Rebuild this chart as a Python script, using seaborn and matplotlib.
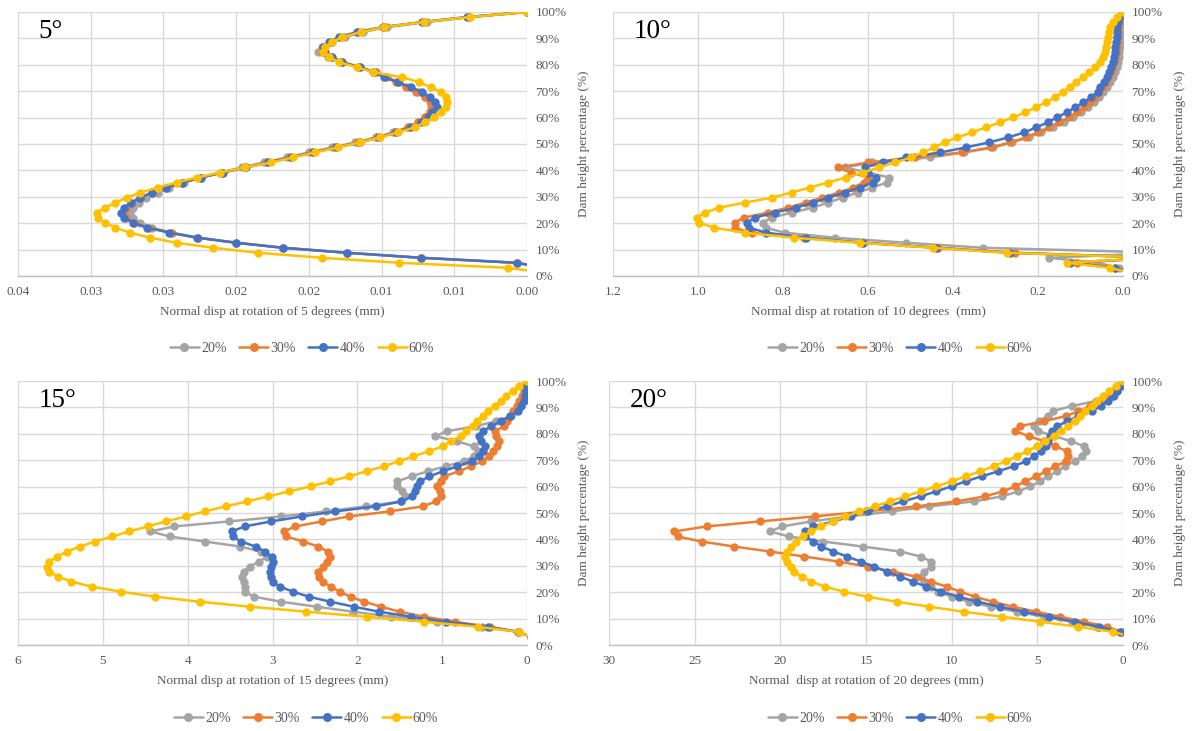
"""
Dam normal displacement profiles at four rotation angles (5, 10, 15, 20 degrees)
"""

from decimal import Decimal, ROUND_HALF_UP

import numpy as np
import pandas as pd
import matplotlib
matplotlib.use("Agg")
import matplotlib.pyplot as plt
import seaborn as sns
from matplotlib.lines import Line2D
from matplotlib.ticker import MultipleLocator, FuncFormatter

nan = np.nan

# node heights along the dam (% of dam height), shared by every series
height_pct = [100.0, 98.1, 96.2, 94.3, 92.4, 90.5, 88.6, 86.7, 84.8, 82.9,
              81.0, 79.1, 77.2, 75.3, 73.4, 71.5, 69.6, 67.7, 65.8, 63.9,
              62.0, 60.1, 58.2, 56.3, 54.4, 52.5, 50.6, 48.7, 46.8, 44.9,
              43.0, 41.1, 39.2, 37.3, 35.4, 33.5, 31.6, 29.7, 27.8, 25.9,
              24.0, 22.1, 20.2, 18.3, 16.4, 14.5, 12.6, 10.7, 8.8, 6.9,
              5.0, 3.1, 1.2]

series_names = ['20%', '30%', '40%', '60%']
series_colors = ['#A5A5A5', '#ED7D31', '#4472C4', '#FFC000']

# ---- 5 degrees (mm) ----
d5_20 = [0.0, 0.0039, 0.0069, 0.0096, 0.0113, 0.0125, 0.0134, 0.0141, 0.0144, 0.0137,
         0.0128, 0.0116, 0.0104, 0.0096, 0.0088, 0.0081, 0.0074, 0.0070, 0.0067, 0.0066,
         0.0067, 0.0070, 0.0075, 0.0082, 0.0092, 0.0104, 0.0118, 0.0134, 0.0150, 0.0165,
         0.0181, 0.0196, 0.0211, 0.0225, 0.0236, 0.0246, 0.0254, 0.0262, 0.0267, 0.0271,
         0.0273, 0.0271, 0.0266, 0.0258, 0.0244, 0.0226, 0.0200, 0.0168, 0.0124, 0.0073,
         0.0007, -0.0012, nan]
d5_30 = [0.0, 0.0040, 0.0071, 0.0098, 0.0116, 0.0128, 0.0135, 0.0140, 0.0141, 0.0135,
         0.0127, 0.0115, 0.0104, 0.0097, 0.0090, 0.0083, 0.0076, 0.0070, 0.0066, 0.0065,
         0.0067, 0.0070, 0.0075, 0.0082, 0.0091, 0.0103, 0.0116, 0.0132, 0.0148, 0.0163,
         0.0179, 0.0194, 0.0210, 0.0224, 0.0237, 0.0248, 0.0258, 0.0266, 0.0272, 0.0276,
         0.0278, 0.0276, 0.0270, 0.0260, 0.0245, 0.0226, 0.0200, 0.0168, 0.0124, 0.0073,
         0.0007, -0.0012, nan]
d5_40 = [0.0, 0.0041, 0.0072, 0.0099, 0.0117, 0.0129, 0.0136, 0.0140, 0.0139, 0.0134,
         0.0127, 0.0115, 0.0106, 0.0098, 0.0089, 0.0080, 0.0072, 0.0067, 0.0063, 0.0062,
         0.0065, 0.0068, 0.0073, 0.0080, 0.0090, 0.0102, 0.0115, 0.0131, 0.0147, 0.0162,
         0.0178, 0.0193, 0.0209, 0.0224, 0.0237, 0.0248, 0.0258, 0.0266, 0.0272, 0.0277,
         0.0279, 0.0277, 0.0271, 0.0261, 0.0246, 0.0227, 0.0200, 0.0168, 0.0124, 0.0073,
         0.0007, -0.0012, nan]
d5_60 = [0.0, 0.0039, 0.0071, 0.0098, 0.0114, 0.0127, 0.0134, 0.0139, 0.0140, 0.0136,
         0.0129, 0.0117, 0.0106, 0.0086, 0.0074, 0.0066, 0.0059, 0.0056, 0.0055, 0.0056,
         0.0059, 0.0064, 0.0070, 0.0077, 0.0089, 0.0101, 0.0115, 0.0130, 0.0146, 0.0161,
         0.0176, 0.0194, 0.0211, 0.0227, 0.0241, 0.0254, 0.0266, 0.0275, 0.0283, 0.0290,
         0.0296, 0.0295, 0.0290, 0.0283, 0.0273, 0.0259, 0.0241, 0.0216, 0.0185, 0.0141,
         0.0088, 0.0013, -0.0012]

# ---- 10 degrees (mm) ----
d10_20 = [0.000, 0.004, 0.005, 0.005, 0.006, 0.006, 0.007, 0.008, 0.009, 0.010,
          0.012, 0.015, 0.019, 0.024, 0.030, 0.037, 0.046, 0.056, 0.068, 0.082,
          0.098, 0.117, 0.140, 0.165, 0.192, 0.222, 0.262, 0.305, 0.373, 0.454,
          0.590, 0.655, 0.600, 0.550, 0.555, 0.590, 0.624, 0.659, 0.694, 0.729,
          0.780, 0.827, 0.847, 0.840, 0.796, 0.678, 0.510, 0.330, -0.100, 0.174,
          0.060, 0.010, -0.020]
d10_30 = [0.000, 0.008, 0.010, 0.011, 0.012, 0.013, 0.014, 0.015, 0.017, 0.019,
          0.021, 0.025, 0.029, 0.035, 0.041, 0.048, 0.056, 0.066, 0.078, 0.091,
          0.108, 0.128, 0.150, 0.174, 0.200, 0.228, 0.265, 0.310, 0.380, 0.490,
          0.600, 0.671, 0.640, 0.600, 0.610, 0.635, 0.668, 0.708, 0.747, 0.788,
          0.835, 0.892, 0.914, 0.914, 0.874, 0.750, 0.612, 0.435, 0.253, -0.080,
          0.108, 0.020, -0.020]
d10_40 = [0.000, 0.010, 0.012, 0.013, 0.014, 0.015, 0.016, 0.018, 0.019, 0.021,
          0.024, 0.028, 0.032, 0.037, 0.045, 0.053, 0.060, 0.075, 0.093, 0.112,
          0.132, 0.155, 0.177, 0.204, 0.232, 0.270, 0.315, 0.370, 0.430, 0.510,
          0.565, 0.608, 0.600, 0.582, 0.588, 0.620, 0.655, 0.694, 0.729, 0.769,
          0.820, 0.867, 0.885, 0.880, 0.839, 0.745, 0.612, 0.440, 0.265, -0.080,
          0.125, 0.020, -0.020]
d10_60 = [0.000, 0.014, 0.024, 0.030, 0.033, 0.035, 0.037, 0.040, 0.043, 0.048,
          0.055, 0.065, 0.080, 0.095, 0.110, 0.125, 0.142, 0.160, 0.182, 0.205,
          0.230, 0.258, 0.290, 0.322, 0.355, 0.390, 0.420, 0.445, 0.470, 0.498,
          0.537, 0.575, 0.612, 0.652, 0.695, 0.737, 0.780, 0.825, 0.890, 0.950,
          0.984, 1.003, 0.998, 0.962, 0.890, 0.775, 0.620, 0.448, 0.273, -0.080,
          0.132, 0.031, -0.020]

# ---- 15 degrees (mm) ----
d15_20 = [0.00, 0.01, 0.02, 0.04, 0.07, 0.10, 0.14, 0.19, 0.36, 0.60,
          0.94, 1.08, 0.83, 0.63, 0.58, 0.63, 0.74, 0.96, 1.17, 1.36,
          1.53, 1.53, 1.47, 1.44, 1.48, 1.90, 2.37, 2.90, 3.51, 4.16,
          4.44, 4.21, 3.80, 3.38, 3.14, 3.06, 3.16, 3.27, 3.34, 3.36,
          3.34, 3.33, 3.33, 3.22, 2.90, 2.48, 2.05, 1.60, 1.06, 0.53,
          0.10, -0.05, nan]
d15_30 = [0.00, 0.02, 0.04, 0.06, 0.09, 0.12, 0.16, 0.20, 0.24, 0.27,
          0.38, 0.37, 0.33, 0.35, 0.40, 0.45, 0.53, 0.66, 0.80, 0.98,
          1.01, 1.06, 1.03, 1.01, 1.07, 1.23, 1.62, 2.10, 2.42, 2.73,
          2.87, 2.84, 2.64, 2.46, 2.35, 2.32, 2.36, 2.41, 2.46, 2.45,
          2.41, 2.31, 2.21, 2.08, 1.92, 1.72, 1.50, 1.21, 0.85, 0.44,
          0.10, -0.05, nan]
d15_40 = [0.00, 0.00, 0.01, 0.02, 0.04, 0.07, 0.11, 0.20, 0.31, 0.42,
          0.52, 0.56, 0.54, 0.50, 0.52, 0.56, 0.65, 0.82, 0.99, 1.15,
          1.26, 1.30, 1.32, 1.35, 1.48, 1.78, 2.26, 2.65, 3.02, 3.33,
          3.48, 3.47, 3.37, 3.20, 3.09, 3.01, 2.99, 3.02, 3.03, 3.02,
          3.00, 2.91, 2.76, 2.57, 2.32, 2.04, 1.74, 1.37, 0.95, 0.46,
          0.11, -0.05, nan]
d15_60 = [0.00, 0.10, 0.17, 0.25, 0.31, 0.38, 0.46, 0.52, 0.59, 0.64,
          0.72, 0.78, 0.90, 0.99, 1.15, 1.34, 1.51, 1.69, 1.89, 2.10,
          2.32, 2.55, 2.80, 3.05, 3.30, 3.55, 3.80, 4.02, 4.26, 4.47,
          4.69, 4.89, 5.09, 5.27, 5.42, 5.54, 5.63, 5.66, 5.63, 5.53,
          5.37, 5.13, 4.79, 4.38, 3.86, 3.26, 2.60, 1.89, 1.21, 0.58,
          0.10, -0.05, nan]

# ---- 20 degrees (mm) ----
d20_20 = [0.00, 0.15, 0.35, 0.50, 1.60, 3.00, 4.10, 4.40, 4.90, 5.20,
          4.94, 4.00, 3.05, 2.27, 2.16, 2.38, 2.83, 3.40, 3.83, 4.39,
          4.83, 5.40, 6.10, 7.06, 8.70, 11.3, 13.5, 16.0, 18.2, 19.9,
          20.6, 19.5, 17.5, 15.2, 13.0, 11.8, 11.2, 11.2, 11.6, 11.8,
          11.6, 11.2, 10.8, 10.0, 9.0, 7.7, 6.2, 4.6, 3.0, 1.5,
          0.1, nan, nan]
d20_30 = [0.00, 0.27, 0.60, 1.00, 1.40, 1.90, 2.60, 3.34, 4.60, 6.00,
          6.28, 5.50, 4.60, 3.94, 3.27, 3.20, 3.34, 3.94, 4.50, 5.05,
          5.70, 6.28, 7.00, 8.06, 9.73, 12.07, 15.0, 18.0, 21.2, 24.3,
          26.2, 26.0, 24.6, 22.7, 20.6, 18.6, 16.6, 14.9, 13.4, 12.1,
          11.2, 10.3, 9.5, 8.66, 7.6, 6.44, 5.05, 3.65, 2.27, 0.94,
          0.04, nan, nan]
d20_40 = [0.00, 0.10, 0.35, 0.60, 0.90, 1.30, 1.80, 2.60, 3.25, 3.83,
          4.16, 4.28, 4.35, 4.50, 4.80, 5.20, 5.66, 6.39, 7.28, 8.24,
          9.18, 10.0, 10.9, 11.8, 12.85, 13.8, 14.9, 15.9, 16.9, 18.07,
          18.55, 18.55, 18.07, 17.6, 16.9, 16.1, 15.3, 14.55, 13.8, 13.0,
          12.25, 11.5, 10.6, 9.6, 8.5, 7.2, 5.8, 4.3, 2.83, 1.38,
          0.16, nan, nan]
d20_60 = [0.00, 0.42, 0.82, 1.16, 1.49, 1.83, 2.20, 2.50, 2.83, 3.20,
          3.60, 4.05, 4.54, 5.00, 5.60, 6.20, 6.84, 7.55, 8.33, 9.18,
          10.0, 10.9, 11.8, 12.7, 13.6, 14.5, 15.4, 16.2, 16.9, 17.6,
          18.2, 18.7, 19.1, 19.4, 19.6, 19.7, 19.6, 19.4, 19.2, 18.75,
          18.2, 17.4, 16.3, 14.9, 13.2, 11.3, 9.3, 7.04, 4.83, 2.6,
          0.6, -0.5, nan]

W, H = 1192, 731

# panel layout in pixels: (left, right, top, bottom), legend centre (x, y)
panels = [
    dict(tag='5°', data=[d5_20, d5_30, d5_40, d5_60], xmax=0.035, step=0.005, nd=2,
         xlabel='Normal disp at rotation of 5 degrees (mm)',
         box=(18, 527, 12, 276), leg=(302, 348)),
    dict(tag='10°', data=[d10_20, d10_30, d10_40, d10_60], xmax=1.2, step=0.2, nd=1,
         xlabel='Normal disp at rotation of 10 degrees  (mm)',
         box=(613, 1123, 12, 276), leg=(900, 348)),
    dict(tag='15°', data=[d15_20, d15_30, d15_40, d15_60], xmax=6, step=1, nd=0,
         xlabel='Normal disp at rotation of 15 degrees (mm)',
         box=(18, 527, 381, 645), leg=(306, 718)),
    dict(tag='20°', data=[d20_20, d20_30, d20_40, d20_60], xmax=30, step=5, nd=0,
         xlabel='Normal  disp at rotation of 20 degrees (mm)',
         box=(609, 1123, 381, 645), leg=(900, 718)),
]


def half_up(nd):
    """Excel style rounding of tick labels"""
    q = Decimal(1).scaleb(-nd)

    def fmt(v, pos):
        return str(Decimal(f'{float(v):.6f}').quantize(q, rounding=ROUND_HALF_UP))
    return FuncFormatter(fmt)


sns.set_style("whitegrid")
plt.rcParams['font.family'] = ['Liberation Serif', 'DejaVu Serif']

txt_color = '#595959'
grid_color = '#D9D9D9'

fig = plt.figure(figsize=(W / 100, H / 100), dpi=100)

for p in panels:
    x0, x1, top, bot = p['box']
    ax = fig.add_axes([x0 / W, 1 - bot / H, (x1 - x0) / W, (bot - top) / H])

    frames = []
    for name, vals in zip(series_names, p['data']):
        frames.append(pd.DataFrame({'disp': vals, 'height': height_pct, 'series': name}))
    df = pd.concat(frames, ignore_index=True)

    sns.lineplot(data=df, x='disp', y='height', hue='series', hue_order=series_names,
                 palette=series_colors, estimator=None, sort=False, orient='y',
                 marker='o', markersize=6, markeredgewidth=0, linewidth=1.8,
                 legend=False, ax=ax)

    ax.set_xlim(p['xmax'], 0)
    ax.set_ylim(0, 100)
    ax.xaxis.set_major_locator(MultipleLocator(p['step']))
    ax.xaxis.set_major_formatter(half_up(p['nd']))
    ax.yaxis.set_major_locator(MultipleLocator(10))
    ax.yaxis.set_major_formatter(FuncFormatter(lambda v, pos: f'{v:.0f}%'))
    ax.yaxis.tick_right()
    ax.yaxis.set_label_position('right')

    ax.grid(True, color=grid_color, linewidth=1.0)
    for side in ['top', 'left', 'right']:
        ax.spines[side].set_visible(False)
    ax.spines['bottom'].set_color('#BFBFBF')
    ax.spines['bottom'].set_linewidth(1.0)
    ax.tick_params(axis='both', length=0, labelsize=9.5, labelcolor=txt_color)
    ax.tick_params(axis='x', pad=7)
    ax.tick_params(axis='y', pad=6)

    ax.set_xlabel(p['xlabel'], fontsize=9.5, color=txt_color, va='center')
    ax.xaxis.set_label_coords(0.5, -(36 / (bot - top)))
    ax.set_ylabel('Dam height percentage (%)', fontsize=9.5, color=txt_color,
                  rotation=90, va='center', ha='center')
    ax.yaxis.set_label_coords(1 + (57 / (x1 - x0)), 0.5)

    ax.text(0.04, 0.925, p['tag'], transform=ax.transAxes, fontsize=19.5,
            ha='left', va='center', color='black')

    handles = [Line2D([0], [0], color=c, lw=1.8, marker='o', markersize=6.5, mew=0)
               for c in series_colors]
    fig.legend(handles, series_names, loc='center', ncol=4, frameon=False,
               bbox_to_anchor=(p['leg'][0] / W, 1 - p['leg'][1] / H),
               fontsize=10, labelcolor=txt_color, handlelength=2.1,
               handletextpad=0.15, columnspacing=0.9)

fig.savefig('out.png', dpi=100)
